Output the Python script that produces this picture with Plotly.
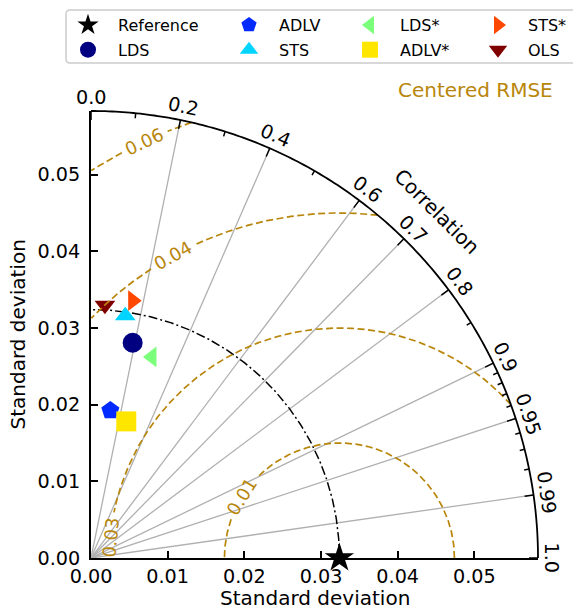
import numpy as np
import plotly.graph_objects as go

# ---------------- data ----------------
ref_name = "Reference"
ref_std = 0.0324
model_names = ["LDS", "ADLV", "STS", "LDS*", "ADLV*", "STS*", "OLS"]
model_std = [0.0286, 0.0194, 0.0319, 0.0274, 0.0184, 0.0340, 0.0330]
model_corr = [0.19, 0.13, 0.14, 0.29, 0.25, 0.16, 0.055]
std_max = 0.0583
std_ticks = [0.00, 0.01, 0.02, 0.03, 0.04, 0.05]
corr_major = [0.0, 0.2, 0.4, 0.6, 0.7, 0.8, 0.9, 0.95, 0.99, 1.0]
corr_minor = [0.1, 0.3, 0.5, 0.85, 0.91, 0.92, 0.93, 0.94, 0.96, 0.97, 0.98]
rmse_levels = [0.015, 0.03, 0.045, 0.06]

# ---------------- styles ----------------
model_symbols = ["circle", "pentagon", "triangle-up", "triangle-left",
                 "square", "triangle-right", "triangle-down"]
model_colors = ["#000080", "#002aff", "#00d4ff", "#7cff7a",
                "#ffe600", "#ff4700", "#800000"]
model_sizes = [20, 19, 18, 18, 20, 18, 18]
rmse_label_phi = [147.9, 174.8, 118.9, 115.1]   # degrees around the reference point
W, H = 573, 613
L, B = 91, 55
PLOT = 447                       # plot side in px (std 0 .. std_max)
T = H - B - PLOT
R = W - L - PLOT
px = PLOT / std_max              # px per std unit
FONT = "DejaVu Sans"
GOLD = "#B8860B"
TICK_FS = 19.2
LABEL_FS = 20
LEG_FS = 16
col_marker_px = [88, 249, 370, 498]   # legend column marker centres (px)
LEG_TOP = 8                            # legend top (px)


def pxx(xp):   # pixel x -> paper x
    return (xp - L) / PLOT


def pxy(yp):   # pixel y -> paper y
    return (H - B - yp) / PLOT


fig = go.Figure()

# correlation grid lines
gx, gy = [], []
for c in corr_major[1:-1]:
    s = np.sqrt(1 - c * c)
    gx += [0, std_max * c, None]
    gy += [0, std_max * s, None]
fig.add_trace(go.Scatter(x=gx, y=gy, mode="lines", line=dict(color="#b0b0b0", width=1.3),
                         showlegend=False, hoverinfo="skip"))

# reference std arc (dash-dot)
th = np.linspace(0, np.pi / 2, 300)
fig.add_trace(go.Scatter(x=ref_std * np.cos(th), y=ref_std * np.sin(th), mode="lines",
                         line=dict(color="black", width=1.5, dash="9px,3px,2px,3px"),
                         showlegend=False, hoverinfo="skip"))


def legend_of(i):           # column-major, 2 rows
    k = i // 2
    return "legend" if k == 0 else f"legend{k + 1}"


# reference point
fig.add_trace(go.Scatter(x=[ref_std], y=[0], mode="markers", name=ref_name,
                         marker=dict(symbol="star", size=22, color="black"),
                         cliponaxis=False, legend=legend_of(0), legendgroup=ref_name))

# models
for i, (n, s, c) in enumerate(zip(model_names, model_std, model_corr)):
    fig.add_trace(go.Scatter(x=[s * c], y=[s * np.sqrt(1 - c * c)], mode="markers", name=n,
                             marker=dict(symbol=model_symbols[i], size=model_sizes[i],
                                         color=model_colors[i], line=dict(width=0)),
                             cliponaxis=False, legend=legend_of(i + 1), legendgroup=n))

# centered RMSE contours (circles about the reference point), with label gaps
annotations = []
phi_all = np.linspace(0, np.pi, 2000)
for lev, lphi in zip(rmse_levels, rmse_label_phi):
    half_gap = 25.0 / (lev * px)  # radians
    lp = np.deg2rad(lphi)
    cx = ref_std + lev * np.cos(phi_all)
    cy = lev * np.sin(phi_all)
    ok = (cx >= 0) & (cy >= 0) & (np.hypot(cx, cy) <= std_max) & (np.abs(phi_all - lp) > half_gap)
    xs, ys = [], []
    prev = False
    for x, y, k in zip(cx, cy, ok):
        if k:
            xs.append(x); ys.append(y)
        elif prev:
            xs.append(None); ys.append(None)
        prev = k
    fig.add_trace(go.Scatter(x=xs, y=ys, mode="lines",
                             line=dict(color=GOLD, width=1.7, dash="7px,3.5px"),
                             showlegend=False, hoverinfo="skip"))
    annotations.append(dict(x=(ref_std + lev * np.cos(lp)) / std_max,
                            y=lev * np.sin(lp) / std_max,
                            xref="paper", yref="paper", text=f"{lev:.2f}", showarrow=False,
                            textangle=90 - lphi, xanchor="center", yanchor="middle",
                            font=dict(family=FONT, size=18, color=GOLD)))

# correlation ticks on the outer arc
tx, ty = [], []
for lst, ln in ((corr_major, 9), (corr_minor, 5)):
    for c in lst:
        s = np.sqrt(1 - c * c)
        r0 = std_max
        r1 = std_max - ln / px
        tx += [r0 * c, r1 * c, None]
        ty += [r0 * s, r1 * s, None]
fig.add_trace(go.Scatter(x=tx, y=ty, mode="lines", line=dict(color="black", width=1.5),
                         showlegend=False, hoverinfo="skip"))

# outer arc as paper path (not clipped)
tha = np.linspace(0, np.pi / 2, 200)
path = "M " + " L ".join(f"{np.cos(t):.5f},{np.sin(t):.5f}" for t in tha)
shapes = [dict(type="path", xref="paper", yref="paper", path=path,
               line=dict(color="black", width=1.8))]

# legend frame (rounded left corners, runs off the right edge)
x0, x1, y0, y1, rr = 66, 580, 10, 63, 4
frame = (f"M {pxx(x1)},{pxy(y0)} L {pxx(x0 + rr)},{pxy(y0)} "
         f"Q {pxx(x0)},{pxy(y0)} {pxx(x0)},{pxy(y0 + rr)} "
         f"L {pxx(x0)},{pxy(y1 - rr)} Q {pxx(x0)},{pxy(y1)} {pxx(x0 + rr)},{pxy(y1)} "
         f"L {pxx(x1)},{pxy(y1)} Z")
shapes.append(dict(type="path", xref="paper", yref="paper", path=frame,
                   line=dict(color="#cccccc", width=1.5), fillcolor="white", layer="below"))

# correlation tick labels
for c in corr_major:
    t = np.arccos(c)
    r = std_max + 13.5 / px
    annotations.append(dict(x=r * np.cos(t) / std_max, y=r * np.sin(t) / std_max,
                            xref="paper", yref="paper",
                            text=f"{c}", showarrow=False, textangle=90 - np.degrees(t),
                            xanchor="center", yanchor="middle",
                            font=dict(family=FONT, size=TICK_FS, color="black")))

# "Correlation" title
rc = 490 / px
annotations.append(dict(x=rc * np.cos(np.pi / 4) / std_max, y=rc * np.sin(np.pi / 4) / std_max,
                        xref="paper", yref="paper",
                        text="Correlation", showarrow=False, textangle=45,
                        xanchor="center", yanchor="middle",
                        font=dict(family=FONT, size=LABEL_FS, color="black")))

# "Centered RMSE"
annotations.append(dict(x=pxx(475), y=pxy(90), xref="paper", yref="paper",
                        text="Centered RMSE", showarrow=False,
                        xanchor="center", yanchor="middle",
                        font=dict(family=FONT, size=LABEL_FS, color=GOLD)))

# axis titles (centred on the 0..std_max span)
annotations.append(dict(x=0.5, y=pxy(598), xref="paper", yref="paper",
                        text="Standard deviation", showarrow=False,
                        xanchor="center", yanchor="middle",
                        font=dict(family=FONT, size=LABEL_FS, color="black")))
annotations.append(dict(x=pxx(17), y=0.5, xref="paper", yref="paper",
                        text="Standard deviation", showarrow=False, textangle=-90,
                        xanchor="center", yanchor="middle",
                        font=dict(family=FONT, size=LABEL_FS, color="black")))

axis_common = dict(range=[0, std_max], tickvals=std_ticks,
                   ticktext=[f"{v:.2f}" for v in std_ticks],
                   ticks="inside", ticklen=7, tickwidth=1.5, tickcolor="black",
                   showline=True, linewidth=2, linecolor="black",
                   showgrid=False, zeroline=False, layer="below traces",
                   tickfont=dict(family=FONT, size=TICK_FS, color="black"),
                   fixedrange=True)

legends = {}
for k, mx in enumerate(col_marker_px):
    key = "legend" if k == 0 else f"legend{k + 1}"
    legends[key] = dict(x=pxx(mx - 30), y=pxy(LEG_TOP), xanchor="left", yanchor="top",
                        orientation="v", itemwidth=50, bgcolor="rgba(0,0,0,0)",
                        borderwidth=0, traceorder="grouped", tracegroupgap=1,
                        font=dict(family=FONT, size=LEG_FS, color="black"))

fig.update_layout(
    width=W, height=H,
    margin=dict(l=L, r=R, t=T, b=B, pad=0, autoexpand=False),
    paper_bgcolor="white", plot_bgcolor="white",
    xaxis=dict(axis_common, ticklabelstandoff=0),
    yaxis=dict(axis_common, ticklabelstandoff=5),
    shapes=shapes, annotations=annotations,
    showlegend=True,
    font=dict(family=FONT),
    **legends,
)

fig.write_html("out.html")
